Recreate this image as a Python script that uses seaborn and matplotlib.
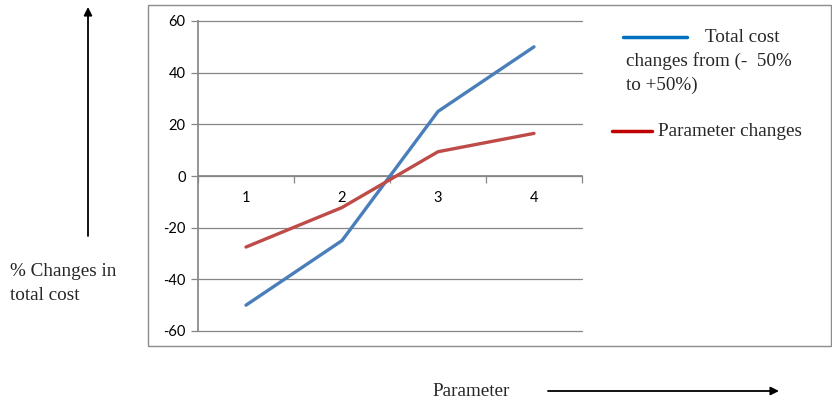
import numpy as np
import pandas as pd
import seaborn as sns
import matplotlib.pyplot as plt
from matplotlib.lines import Line2D
from matplotlib.patches import Rectangle

# Data
parameter = [1, 2, 3, 4]
total_cost = [-50, -25, 25, 50]
param_changes = [-27.5, -12.2, 9.4, 16.5]
y_ticks = [-60, -40, -20, 0, 20, 40, 60]

series_names = ["Total cost changes from (-  50% to +50%)", "Parameter changes"]

df = pd.DataFrame({
    "Parameter": parameter * 2,
    "Change": total_cost + param_changes,
    "Series": [series_names[0]] * 4 + [series_names[1]] * 4,
})

# Settings
sns.set_theme(style="white")
plt.rcParams["font.family"] = ["Lato", "DejaVu Sans"]
plt.rcParams["axes.unicode_minus"] = False

W, H = 832, 403
fig = plt.figure(figsize=(W / 100, H / 100), dpi=100)
ax = fig.add_axes([198 / W, 1 - 331 / H, 384 / W, 310 / H])

sns.lineplot(data=df, x="Parameter", y="Change", hue="Series",
             palette=["#4A7EBB", "#BE4B48"], linewidth=2.4, legend=False, ax=ax)

ax.set_xlim(0.5, 4.5)
ax.set_ylim(-60, 60)
ax.set_yticks(y_ticks)
ax.set_xticks(parameter)
ax.set_xticks([0.5, 1.5, 2.5, 3.5, 4.5], minor=True)
ax.set_xlabel("")
ax.set_ylabel("")

ax.grid(axis="y", color="#868686", linewidth=0.9)
ax.set_axisbelow(True)
for gl in ax.get_ygridlines():
    gl.set_clip_on(False)

for s in ["top", "right"]:
    ax.spines[s].set_visible(False)
ax.spines["bottom"].set_position(("data", 0))
ax.spines["bottom"].set_color("#868686")
ax.spines["left"].set_color("#868686")
ax.spines["bottom"].set_zorder(0)

ax.tick_params(axis="y", which="major", direction="out", length=5, width=0.9,
               color="#868686", labelsize=10.5, labelcolor="black", pad=4, left=True)
ax.tick_params(axis="x", which="major", length=0, labelsize=10.5,
               labelcolor="black", pad=11)
ax.tick_params(axis="x", which="minor", direction="out", length=5, width=0.9,
               color="#868686", bottom=True)

# Chart border
fig.add_artist(Rectangle((148 / W, 1 - 346 / H), 683 / W, 341 / H,
                         transform=fig.transFigure, fill=False,
                         edgecolor="#8c8c8c", linewidth=1))

# Legend drawn as in the document
serif = ["Liberation Serif", "DejaVu Serif"]
fig.add_artist(Line2D([623 / W, 687 / W], [1 - 37 / H, 1 - 37 / H],
                      transform=fig.transFigure, color="#0070C0", linewidth=2.5))
fig.add_artist(Line2D([612 / W, 652 / W], [1 - 131 / H, 1 - 131 / H],
                      transform=fig.transFigure, color="#C00000", linewidth=2.5))
fig.text(705 / W, 1 - 37 / H, "Total cost", family=serif, fontsize=13.8, va="center")
fig.text(626 / W, 1 - 61 / H, "changes from (-  50%", family=serif, fontsize=13.8, va="center")
fig.text(626 / W, 1 - 85 / H, "to +50%)", family=serif, fontsize=13.8, va="center")
fig.text(658 / W, 1 - 132 / H, "Parameter changes", family=serif, fontsize=13.8, va="center")

# Axis captions with arrows
fig.text(10 / W, 1 - 272 / H, "% Changes in", family=serif, fontsize=13.8, va="center")
fig.text(10 / W, 1 - 296 / H, "total cost", family=serif, fontsize=13.8, va="center")
fig.text(432 / W, 1 - 391 / H, "Parameter", family=serif, fontsize=13.8, va="center")

fig.add_artist(plt.Annotation("", xy=(88 / W, 1 - 7 / H), xytext=(88 / W, 1 - 236 / H),
                              xycoords="figure fraction", textcoords="figure fraction",
                              arrowprops=dict(arrowstyle="-|>", color="black", lw=1.3,
                                              mutation_scale=12, shrinkA=0, shrinkB=0)))
fig.add_artist(plt.Annotation("", xy=(779 / W, 1 - 391 / H), xytext=(548 / W, 1 - 391 / H),
                              xycoords="figure fraction", textcoords="figure fraction",
                              arrowprops=dict(arrowstyle="-|>", color="black", lw=1.3,
                                              mutation_scale=12, shrinkA=0, shrinkB=0)))

plt.savefig("out.png", dpi=100)
